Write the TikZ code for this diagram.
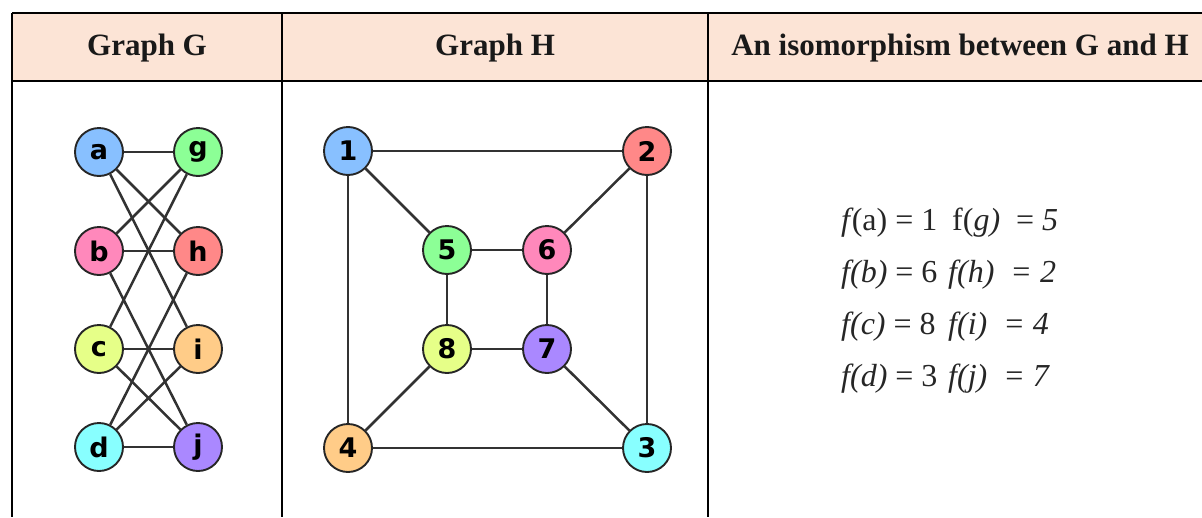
\documentclass[tikz,border=0pt]{standalone}
\usepackage{fontspec}
\setmainfont{Liberation Serif}
\newfontfamily\labfont{DejaVu Sans}
\definecolor{headfill}{RGB}{252,228,214}
\definecolor{edgecol}{RGB}{50,50,50}
\definecolor{cblue}{RGB}{136,192,255}
\definecolor{cgreen}{RGB}{140,255,150}
\definecolor{cpink}{RGB}{255,136,187}
\definecolor{cred}{RGB}{255,136,136}
\definecolor{cyellow}{RGB}{230,255,136}
\definecolor{corange}{RGB}{255,204,136}
\definecolor{ccyan}{RGB}{136,255,255}
\definecolor{cpurple}{RGB}{170,136,255}
\tikzset{
  vert/.style={circle, draw=black!85, line width=1.9pt, minimum size=48pt, inner sep=0pt,
    font=\labfont\bfseries\fontsize{27}{27}\selectfont},
  edge/.style={draw=edgecol, line width=2.5pt},
  rule/.style={draw=black, line width=2.6pt},
  head/.style={font=\fontsize{31}{36}\selectfont\bfseries, inner sep=0pt, text=black!90},
  mapt/.style={font=\fontsize{32}{36}\selectfont, inner sep=0pt, anchor=base west, text=black!85}
}
\begin{document}
\begin{tikzpicture}[x=1pt,y=-1pt]
\useasboundingbox (0,0) rectangle (1202,517);
% table
\fill[headfill] (12,13) rectangle (1202,81);
\draw[rule] (12,13) -- (1202,13);
\draw[rule] (12,81) -- (1202,81);
\draw[rule] (12,13) -- (12,517);
\draw[rule] (282,13) -- (282,517);
\draw[rule] (708,13) -- (708,517);
\node[head] (hG) at (147,48) {Graph G};
\node[head] (hH) at (495,48) {Graph H};
\node[head] (hI) at (960,48) {An isomorphism between G and H};
% graph G
\node[vert, fill=cblue]   (a) at (99,152) {a};
\node[vert, fill=cgreen]  (g) at (198,152) {g};
\node[vert, fill=cpink]   (b) at (99,251) {b};
\node[vert, fill=cred]    (h) at (198,251) {h};
\node[vert, fill=cyellow] (c) at (99,349) {c};
\node[vert, fill=corange] (i) at (198,349) {i};
\node[vert, fill=ccyan]   (d) at (99,447) {d};
\node[vert, fill=cpurple] (j) at (198,447) {j};
\draw[edge] (a) -- (g); \draw[edge] (a) -- (h); \draw[edge] (a) -- (i);
\draw[edge] (b) -- (g); \draw[edge] (b) -- (h); \draw[edge] (b) -- (j);
\draw[edge] (c) -- (g); \draw[edge] (c) -- (i); \draw[edge] (c) -- (j);
\draw[edge] (d) -- (h); \draw[edge] (d) -- (i); \draw[edge] (d) -- (j);
% graph H
\node[vert, fill=cblue]   (n1) at (348,151) {1};
\node[vert, fill=cred]    (n2) at (647,151) {2};
\node[vert, fill=ccyan]   (n3) at (647,448) {3};
\node[vert, fill=corange] (n4) at (348,448) {4};
\node[vert, fill=cgreen]  (n5) at (447,250) {5};
\node[vert, fill=cpink]   (n6) at (547,250) {6};
\node[vert, fill=cpurple] (n7) at (547,349) {7};
\node[vert, fill=cyellow] (n8) at (447,349) {8};
\draw[edge] (n1) -- (n2); \draw[edge] (n2) -- (n3); \draw[edge] (n3) -- (n4); \draw[edge] (n4) -- (n1);
\draw[edge] (n5) -- (n6); \draw[edge] (n6) -- (n7); \draw[edge] (n7) -- (n8); \draw[edge] (n8) -- (n5);
\draw[edge] (n1) -- (n5); \draw[edge] (n2) -- (n6); \draw[edge] (n3) -- (n7); \draw[edge] (n4) -- (n8);
% mapping
\node[mapt] (m1) at (841,230) {\textit{f}\kern-2pt(a) = 1};
\node[mapt] (m2) at (841,282) {\textit{f(b)} = 6};
\node[mapt] (m3) at (841,334) {\textit{f(c)} = 8};
\node[mapt] (m4) at (841,386) {\textit{f(d)} = 3};
\node[mapt] (m5) at (952,230) {f(\textit{g)}\enspace= \textit{5}};
\node[mapt] (m6) at (948,282) {\textit{f(h)\enspace= 2}};
\node[mapt] (m7) at (948,334) {\textit{f(i)\enspace= 4}};
\node[mapt] (m8) at (948,386) {\textit{f(j)\enspace= 7}};
\end{tikzpicture}
\end{document}
